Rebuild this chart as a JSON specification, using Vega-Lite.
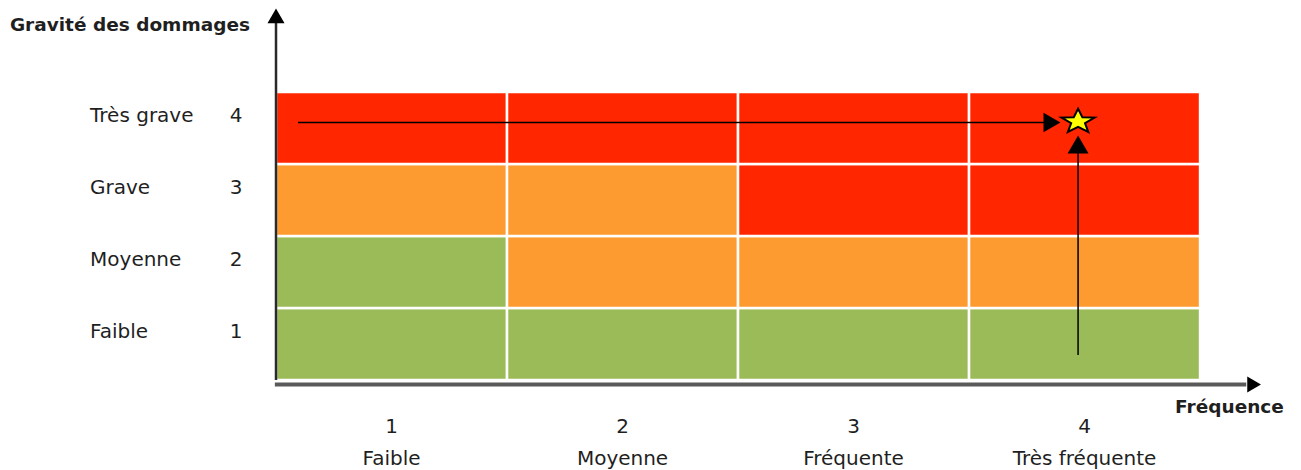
{
  "$schema": "https://vega.github.io/schema/vega-lite/v6.json",
  "width": 1301,
  "height": 470,
  "padding": 0,
  "autosize": {"type": "fit", "contains": "padding"},
  "background": "white",
  "config": {"view": {"stroke": null}, "text": {"font": "DejaVu Sans", "fontSize": 20, "color": "#1f1f1f"}},
  "datasets": {
    "cellules": [
      {"frequence": 1, "gravite": 1, "f_min": 0.5, "f_max": 1.5, "g_min": 0.5, "g_max": 1.5, "niveau": "acceptable"},
      {"frequence": 2, "gravite": 1, "f_min": 1.5, "f_max": 2.5, "g_min": 0.5, "g_max": 1.5, "niveau": "acceptable"},
      {"frequence": 3, "gravite": 1, "f_min": 2.5, "f_max": 3.5, "g_min": 0.5, "g_max": 1.5, "niveau": "acceptable"},
      {"frequence": 4, "gravite": 1, "f_min": 3.5, "f_max": 4.5, "g_min": 0.5, "g_max": 1.5, "niveau": "acceptable"},
      {"frequence": 1, "gravite": 2, "f_min": 0.5, "f_max": 1.5, "g_min": 1.5, "g_max": 2.5, "niveau": "acceptable"},
      {"frequence": 2, "gravite": 2, "f_min": 1.5, "f_max": 2.5, "g_min": 1.5, "g_max": 2.5, "niveau": "tolerable"},
      {"frequence": 3, "gravite": 2, "f_min": 2.5, "f_max": 3.5, "g_min": 1.5, "g_max": 2.5, "niveau": "tolerable"},
      {"frequence": 4, "gravite": 2, "f_min": 3.5, "f_max": 4.5, "g_min": 1.5, "g_max": 2.5, "niveau": "tolerable"},
      {"frequence": 1, "gravite": 3, "f_min": 0.5, "f_max": 1.5, "g_min": 2.5, "g_max": 3.5, "niveau": "tolerable"},
      {"frequence": 2, "gravite": 3, "f_min": 1.5, "f_max": 2.5, "g_min": 2.5, "g_max": 3.5, "niveau": "tolerable"},
      {"frequence": 3, "gravite": 3, "f_min": 2.5, "f_max": 3.5, "g_min": 2.5, "g_max": 3.5, "niveau": "inacceptable"},
      {"frequence": 4, "gravite": 3, "f_min": 3.5, "f_max": 4.5, "g_min": 2.5, "g_max": 3.5, "niveau": "inacceptable"},
      {"frequence": 1, "gravite": 4, "f_min": 0.5, "f_max": 1.5, "g_min": 3.5, "g_max": 4.5, "niveau": "inacceptable"},
      {"frequence": 2, "gravite": 4, "f_min": 1.5, "f_max": 2.5, "g_min": 3.5, "g_max": 4.5, "niveau": "inacceptable"},
      {"frequence": 3, "gravite": 4, "f_min": 2.5, "f_max": 3.5, "g_min": 3.5, "g_max": 4.5, "niveau": "inacceptable"},
      {"frequence": 4, "gravite": 4, "f_min": 3.5, "f_max": 4.5, "g_min": 3.5, "g_max": 4.5, "niveau": "inacceptable"}
    ],
    "gravites": [
      {"gravite": 4, "libelle": "Très grave", "code": "4"},
      {"gravite": 3, "libelle": "Grave", "code": "3"},
      {"gravite": 2, "libelle": "Moyenne", "code": "2"},
      {"gravite": 1, "libelle": "Faible", "code": "1"}
    ],
    "frequences": [
      {"frequence": 1, "libelle": "Faible", "code": "1"},
      {"frequence": 2, "libelle": "Moyenne", "code": "2"},
      {"frequence": 3, "libelle": "Fréquente", "code": "3"},
      {"frequence": 4, "libelle": "Très fréquente", "code": "4"}
    ]
  },
  "layer": [
    {
      "data": {"name": "cellules"},
      "mark": {"type": "rect", "stroke": "white", "strokeWidth": 2.5},
      "encoding": {
        "x": {"field": "f_min", "type": "quantitative", "scale": {"domain": [-0.6948, 4.937], "nice": false, "zero": false}, "axis": null},
        "x2": {"field": "f_max"},
        "y": {"field": "g_min", "type": "quantitative", "scale": {"domain": [-0.75, 5.778], "nice": false, "zero": false}, "axis": null},
        "y2": {"field": "g_max"},
        "color": {"field": "niveau", "type": "nominal", "legend": null,
          "scale": {"domain": ["acceptable", "tolerable", "inacceptable"], "range": ["#9BBB59", "#FD9A30", "#FF2600"]}}
      }
    },
    {
      "data": {"values": [{"x": 0.5, "y": 0.5, "y2": 5.5}]},
      "mark": {"type": "rule", "color": "#2a2a2a", "strokeWidth": 2.5},
      "encoding": {"x": {"field": "x", "type": "quantitative"}, "y": {"field": "y", "type": "quantitative"}, "y2": {"field": "y2"}}
    },
    {
      "data": {"values": [{"x": 0.495, "x2": 4.7, "y": 0.4375}]},
      "mark": {"type": "rule", "color": "#5a5a5a", "strokeWidth": 4},
      "encoding": {"x": {"field": "x", "type": "quantitative"}, "x2": {"field": "x2"}, "y": {"field": "y", "type": "quantitative"}}
    },
    {
      "data": {"values": [{"x": 0.5, "y": 5.556}]},
      "mark": {"type": "point", "shape": "triangle-up", "filled": true, "color": "black", "opacity": 1, "size": 290},
      "encoding": {"x": {"field": "x", "type": "quantitative"}, "y": {"field": "y", "type": "quantitative"}}
    },
    {
      "data": {"values": [{"x": 4.734, "y": 0.4375}]},
      "mark": {"type": "point", "shape": "triangle-right", "filled": true, "color": "black", "opacity": 1, "size": 250},
      "encoding": {"x": {"field": "x", "type": "quantitative"}, "y": {"field": "y", "type": "quantitative"}}
    },
    {
      "data": {"values": [{"x": 0.595, "x2": 3.85, "y": 4.076}]},
      "mark": {"type": "rule", "color": "black", "strokeWidth": 1.5},
      "encoding": {"x": {"field": "x", "type": "quantitative"}, "x2": {"field": "x2"}, "y": {"field": "y", "type": "quantitative"}}
    },
    {
      "data": {"values": [{"x": 3.972, "y": 0.847, "y2": 3.78}]},
      "mark": {"type": "rule", "color": "black", "strokeWidth": 1.5},
      "encoding": {"x": {"field": "x", "type": "quantitative"}, "y": {"field": "y", "type": "quantitative"}, "y2": {"field": "y2"}}
    },
    {
      "data": {"values": [{"x": 3.859, "y": 4.076}]},
      "mark": {"type": "point", "shape": "triangle-right", "filled": true, "color": "black", "opacity": 1, "size": 380},
      "encoding": {"x": {"field": "x", "type": "quantitative"}, "y": {"field": "y", "type": "quantitative"}}
    },
    {
      "data": {"values": [{"x": 3.972, "y": 3.771}]},
      "mark": {"type": "point", "shape": "triangle-up", "filled": true, "color": "black", "opacity": 1, "size": 440},
      "encoding": {"x": {"field": "x", "type": "quantitative"}, "y": {"field": "y", "type": "quantitative"}}
    },
    {
      "data": {"values": [{"frequence": 3.972, "gravite": 4.09}]},
      "mark": {"type": "point", "shape": "M0,-0.74L0.247,-0.252L0.951,-0.229L0.399,0.096L0.588,0.599L0,0.311L-0.588,0.599L-0.399,0.096L-0.951,-0.229L-0.247,-0.252Z", "filled": true, "fill": "#FFFF00", "stroke": "black", "strokeWidth": 2, "opacity": 1, "size": 1200},
      "encoding": {"x": {"field": "frequence", "type": "quantitative"}, "y": {"field": "gravite", "type": "quantitative"}}
    },
    {
      "data": {"name": "gravites"},
      "mark": {"type": "text", "align": "left", "baseline": "alphabetic", "dy": -6},
      "encoding": {"x": {"datum": -0.305, "type": "quantitative"}, "y": {"field": "gravite", "type": "quantitative"}, "text": {"field": "libelle"}}
    },
    {
      "data": {"name": "gravites"},
      "mark": {"type": "text", "align": "center", "baseline": "alphabetic", "dy": -6},
      "encoding": {"x": {"datum": 0.327, "type": "quantitative"}, "y": {"field": "gravite", "type": "quantitative"}, "text": {"field": "code"}}
    },
    {
      "data": {"name": "frequences"},
      "mark": {"type": "text", "align": "center", "baseline": "alphabetic"},
      "encoding": {"x": {"field": "frequence", "type": "quantitative"}, "y": {"datum": -0.236, "type": "quantitative"}, "text": {"field": "code"}}
    },
    {
      "data": {"name": "frequences"},
      "mark": {"type": "text", "align": "center", "baseline": "alphabetic"},
      "encoding": {"x": {"field": "frequence", "type": "quantitative"}, "y": {"datum": -0.681, "type": "quantitative"}, "text": {"field": "libelle"}}
    },
    {
      "data": {"values": [{"titre": "Gravité des dommages"}]},
      "mark": {"type": "text", "align": "left", "baseline": "alphabetic", "fontWeight": "bold", "fontSize": 18.5},
      "encoding": {"x": {"datum": -0.652, "type": "quantitative"}, "y": {"datum": 5.347, "type": "quantitative"}, "text": {"field": "titre"}}
    },
    {
      "data": {"values": [{"titre": "Fréquence"}]},
      "mark": {"type": "text", "align": "left", "baseline": "alphabetic", "fontWeight": "bold", "fontSize": 18.5},
      "encoding": {"x": {"datum": 4.392, "type": "quantitative"}, "y": {"datum": 0.0417, "type": "quantitative"}, "text": {"field": "titre"}}
    }
  ]
}
